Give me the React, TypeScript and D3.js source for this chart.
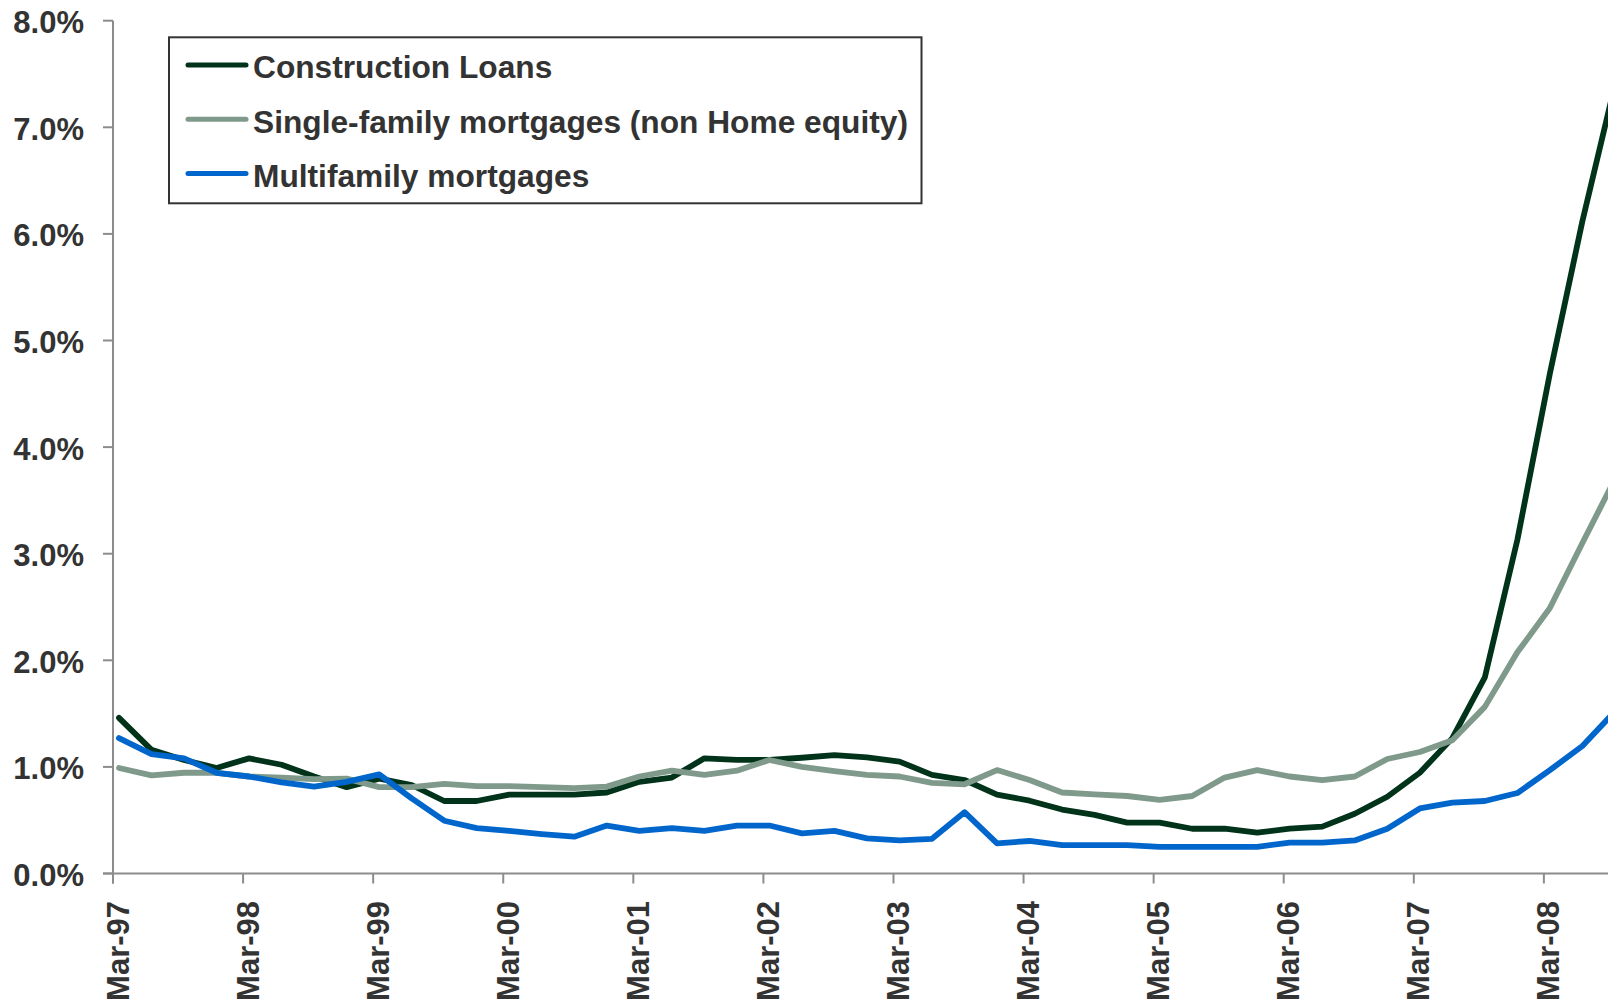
import React from "react";
import * as d3 from "d3";

// quarterly delinquency rates (%), Mar-97 .. Sep-08
const construction = [
  1.46, 1.16, 1.065, 0.99, 1.08, 1.02, 0.91, 0.81, 0.89, 0.83, 0.68, 0.68,
  0.74, 0.74, 0.74, 0.76, 0.86, 0.9, 1.08, 1.065, 1.065, 1.086, 1.11, 1.09,
  1.05, 0.925, 0.877, 0.74, 0.683, 0.6, 0.55, 0.477, 0.477, 0.42, 0.42, 0.383,
  0.42, 0.44, 0.56, 0.72, 0.945, 1.27, 1.84, 3.13, 4.69, 6.12, 7.4,
];
const singleFamily = [
  0.99, 0.92, 0.945, 0.945, 0.91, 0.9, 0.885, 0.89, 0.81, 0.81, 0.84, 0.82,
  0.82, 0.81, 0.8, 0.815, 0.91, 0.965, 0.925, 0.965, 1.065, 1.0, 0.96, 0.925,
  0.91, 0.85, 0.837, 0.97, 0.877, 0.76, 0.743, 0.727, 0.69, 0.727, 0.9, 0.97,
  0.91, 0.877, 0.91, 1.074, 1.14, 1.25, 1.563, 2.075, 2.49, 3.1, 3.7,
];
const multifamily = [
  1.27, 1.12, 1.08, 0.945, 0.91, 0.855, 0.815, 0.86, 0.93, 0.705, 0.495, 0.425,
  0.4, 0.37, 0.345, 0.45, 0.4, 0.425, 0.4, 0.45, 0.45, 0.377, 0.4, 0.33,
  0.31, 0.325, 0.575, 0.283, 0.305, 0.267, 0.267, 0.267, 0.25, 0.25, 0.25, 0.25,
  0.29, 0.29, 0.31, 0.42, 0.61, 0.665, 0.68, 0.755, 0.97, 1.196, 1.52,
];
const tickLabels = [
  "Mar-97", "Mar-98", "Mar-99", "Mar-00", "Mar-01", "Mar-02",
  "Mar-03", "Mar-04", "Mar-05", "Mar-06", "Mar-07", "Mar-08",
];
const seriesNames = [
  "Construction Loans",
  "Single-family mortgages (non Home equity)",
  "Multifamily mortgages",
];
const seriesColors = ["#00331a", "#7f9a8b", "#0066cc"];

const W = 1608;
const H = 1001;
const FONT = "'Liberation Sans', Arial, Helvetica, sans-serif";
const TEXT = "#333333";
const AXIS = "#8c8c8c";

export default function App() {
  const series = [construction, singleFamily, multifamily];
  const n = construction.length;

  const x = d3.scaleLinear().domain([0, n - 1]).range([119, 119 + (n - 1) * 32.52]);
  const y = d3.scaleLinear().domain([0, 8]).range([873.5, 20.7]);

  const line = d3
    .line<number>()
    .x((_, i) => x(i))
    .y((d) => y(d));

  const yTicks = y.ticks(8);
  const fmt = d3.format(".1f");
  const x0 = x.range()[0] - 6; // axis sits a little left of first quarter

  return (
    <div style={{ position: "absolute", left: 0, top: 0, width: W, height: H, background: "#fff" }}>
      <svg width={W} height={H} style={{ display: "block" }} fontFamily={FONT}>
        {/* y axis */}
        <line x1={x0} x2={x0} y1={y(8)} y2={y(0) + 10} stroke={AXIS} strokeWidth={2} />
        {yTicks.map((t) => (
          <g key={t}>
            <line x1={x0 - 10} x2={x0} y1={y(t)} y2={y(t)} stroke={AXIS} strokeWidth={2} />
            <text x={84} y={y(t) + 12.5} textAnchor="end" fontSize={31} fontWeight="bold" fill={TEXT}>
              {fmt(t)}%
            </text>
          </g>
        ))}

        {/* x axis */}
        <line x1={x0 - 10} x2={W} y1={y(0)} y2={y(0)} stroke={AXIS} strokeWidth={2} />
        {tickLabels.map((lab, k) => {
          const tx = x(k * 4) - 6;
          return (
            <g key={lab}>
              <line x1={tx} x2={tx} y1={y(0)} y2={y(0) + 10} stroke={AXIS} strokeWidth={2} />
              <text
                transform={`translate(${tx + 15.5},901) rotate(-90)`}
                textAnchor="end"
                fontSize={31}
                fontWeight="bold"
                fill={TEXT}
              >
                {lab}
              </text>
            </g>
          );
        })}

        {/* series */}
        {series.map((s, i) => (
          <path
            key={seriesNames[i]}
            d={line(s) ?? undefined}
            fill="none"
            stroke={seriesColors[i]}
            strokeWidth={5.8}
            strokeLinejoin="round"
            strokeLinecap="round"
          />
        ))}

        {/* legend */}
        <rect x={169} y={37.3} width={752.5} height={166} fill="#fff" stroke="#333" strokeWidth={2} />
        {seriesNames.map((name, i) => {
          const ly = 65 + i * 54.3;
          return (
            <g key={name}>
              <line x1={188} x2={246} y1={ly} y2={ly} stroke={seriesColors[i]} strokeWidth={5} strokeLinecap="round" />
              <text x={253} y={ly + 13.3} fontSize={31.7} fontWeight="bold" fill={TEXT}>
                {name}
              </text>
            </g>
          );
        })}
      </svg>
    </div>
  );
}
